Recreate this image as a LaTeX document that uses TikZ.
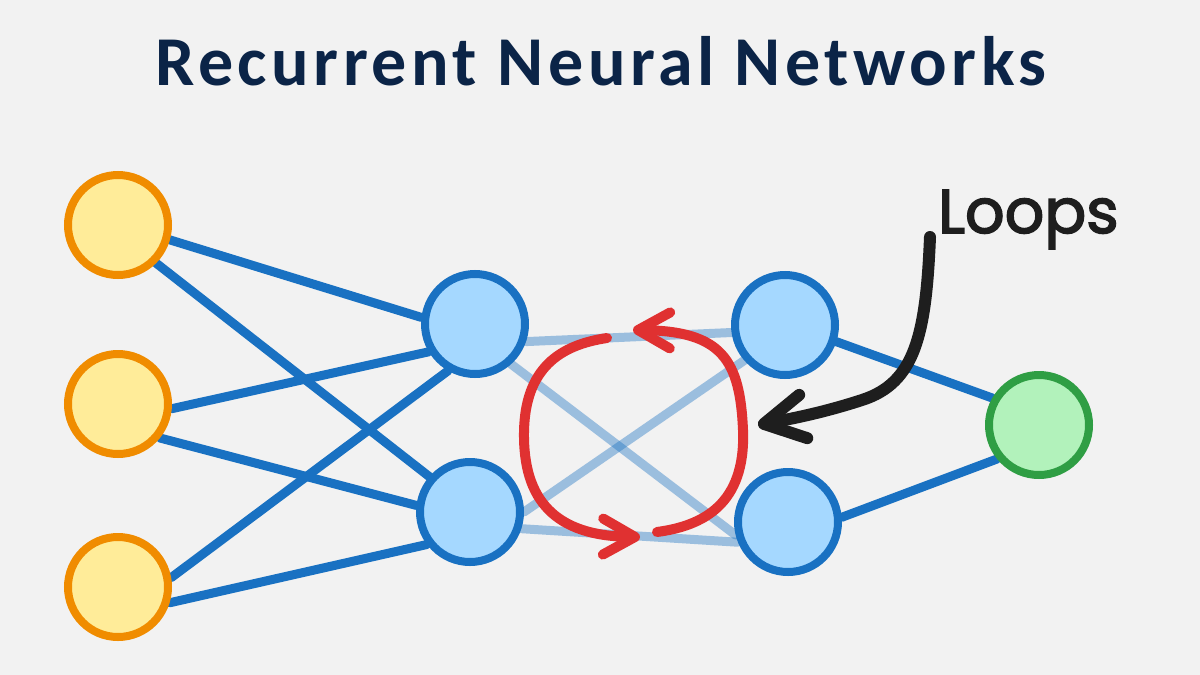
\documentclass[tikz,border=0pt]{standalone}
\usepackage{fontspec}
\usetikzlibrary{arrows.meta,backgrounds}
\newfontfamily\titlefont[LetterSpace=6.5]{Carlito}
\newfontfamily\handfont[FakeBold=2.5]{Poppins}
\definecolor{bgcol}{HTML}{F2F2F2}
\definecolor{navy}{HTML}{0B2447}
\definecolor{inorange}{HTML}{F08C00}
\definecolor{inyellow}{HTML}{FFEC99}
\definecolor{hidblue}{HTML}{1971C2}
\definecolor{hidfill}{HTML}{A5D8FF}
\definecolor{outgreen}{HTML}{2F9E44}
\definecolor{outfill}{HTML}{B2F2BB}
\definecolor{loopred}{HTML}{E03131}
\definecolor{inkblack}{HTML}{1E1E1E}

\begin{document}
\begin{tikzpicture}[x=1pt,y=-1pt,
    neuron/.style={circle,line width=8pt,minimum size=100pt,inner sep=0pt},
    inp/.style={neuron,draw=inorange,fill=inyellow},
    hid/.style={neuron,draw=hidblue,fill=hidfill},
    outn/.style={neuron,draw=outgreen,fill=outfill},
    wire/.style={draw=hidblue,line width=9pt,line cap=round},
    faint/.style={wire,draw opacity=0.4},
    loopline/.style={draw=loopred,line width=10pt,line cap=round,
      -{Straight Barb[round,length=32pt,width=36pt]}}]
  \useasboundingbox (0,0) rectangle (1200,675);

  \node[anchor=base,inner sep=0pt,text=navy,font=\titlefont\bfseries\fontsize{70}{80}\selectfont]
    (title) at (601,85) {Recurrent Neural Networks};

  % the layers
  \foreach \n/\y in {1/225,2/404,3/587}{%
    \node[inp] (in\n) at (118,\y) {}; }
  \node[hid] (h1a) at (475,324) {};
  \node[hid] (h1b) at (470,512) {};
  \node[hid] (h2a) at (785,325) {};
  \node[hid] (h2b) at (788,522) {};
  \node[outn] (out) at (1039,425) {};

  \begin{scope}[on background layer]
    \fill[bgcol] (0,0) rectangle (1200,675);
    \foreach \a/\b in {in1.-16/h1a.173, in1.-45/h1b.139, in2.-5/h1a.211,
                       in2.-39/h1b.173, in3.10/h1a.240, in3.-17/h1b.217,
                       h2a.-18/out.150, h2b.5/out.219}{%
      \draw[wire] (\a) -- (\b); }
    % links between the two hidden layers
    \foreach \a/\b in {h1a.-19/h2a.188, h1a.-48/h2b.194,
                       h1b.0/h2a.221, h1b.-18/h2b.202}{%
      \draw[faint] (\a) -- (\b); }
  \end{scope}

  % the loops
  \coordinate (lstart) at (607,338);
  \coordinate (lend) at (640,537);
  \coordinate (rstart) at (657,532);
  \coordinate (rend) at (633,330);
  \draw[loopline] (lstart) .. controls (560,345) and (525,368) .. (524,432)
    .. controls (523,500) and (555,536) .. (lend);
  \draw[loopline] (rstart) .. controls (702,526) and (746,505) .. (743,430)
    .. controls (740,360) and (722,331) .. (rend);

  % label and pointer
  \node[anchor=base west,inner sep=0pt,text=inkblack,font=\handfont\fontsize{62}{68}\selectfont]
    (loops) at (938,233) {Loops};
  \coordinate (ptip) at (758,425);
  \draw[draw=inkblack,line width=12pt,line cap=round,
        -{Straight Barb[round,length=40pt,width=44pt]}]
    (930,237) .. controls (926,335) and (915,383) .. (862,400)
    .. controls (822,413) and (790,419) .. (ptip);
\end{tikzpicture}
\end{document}
